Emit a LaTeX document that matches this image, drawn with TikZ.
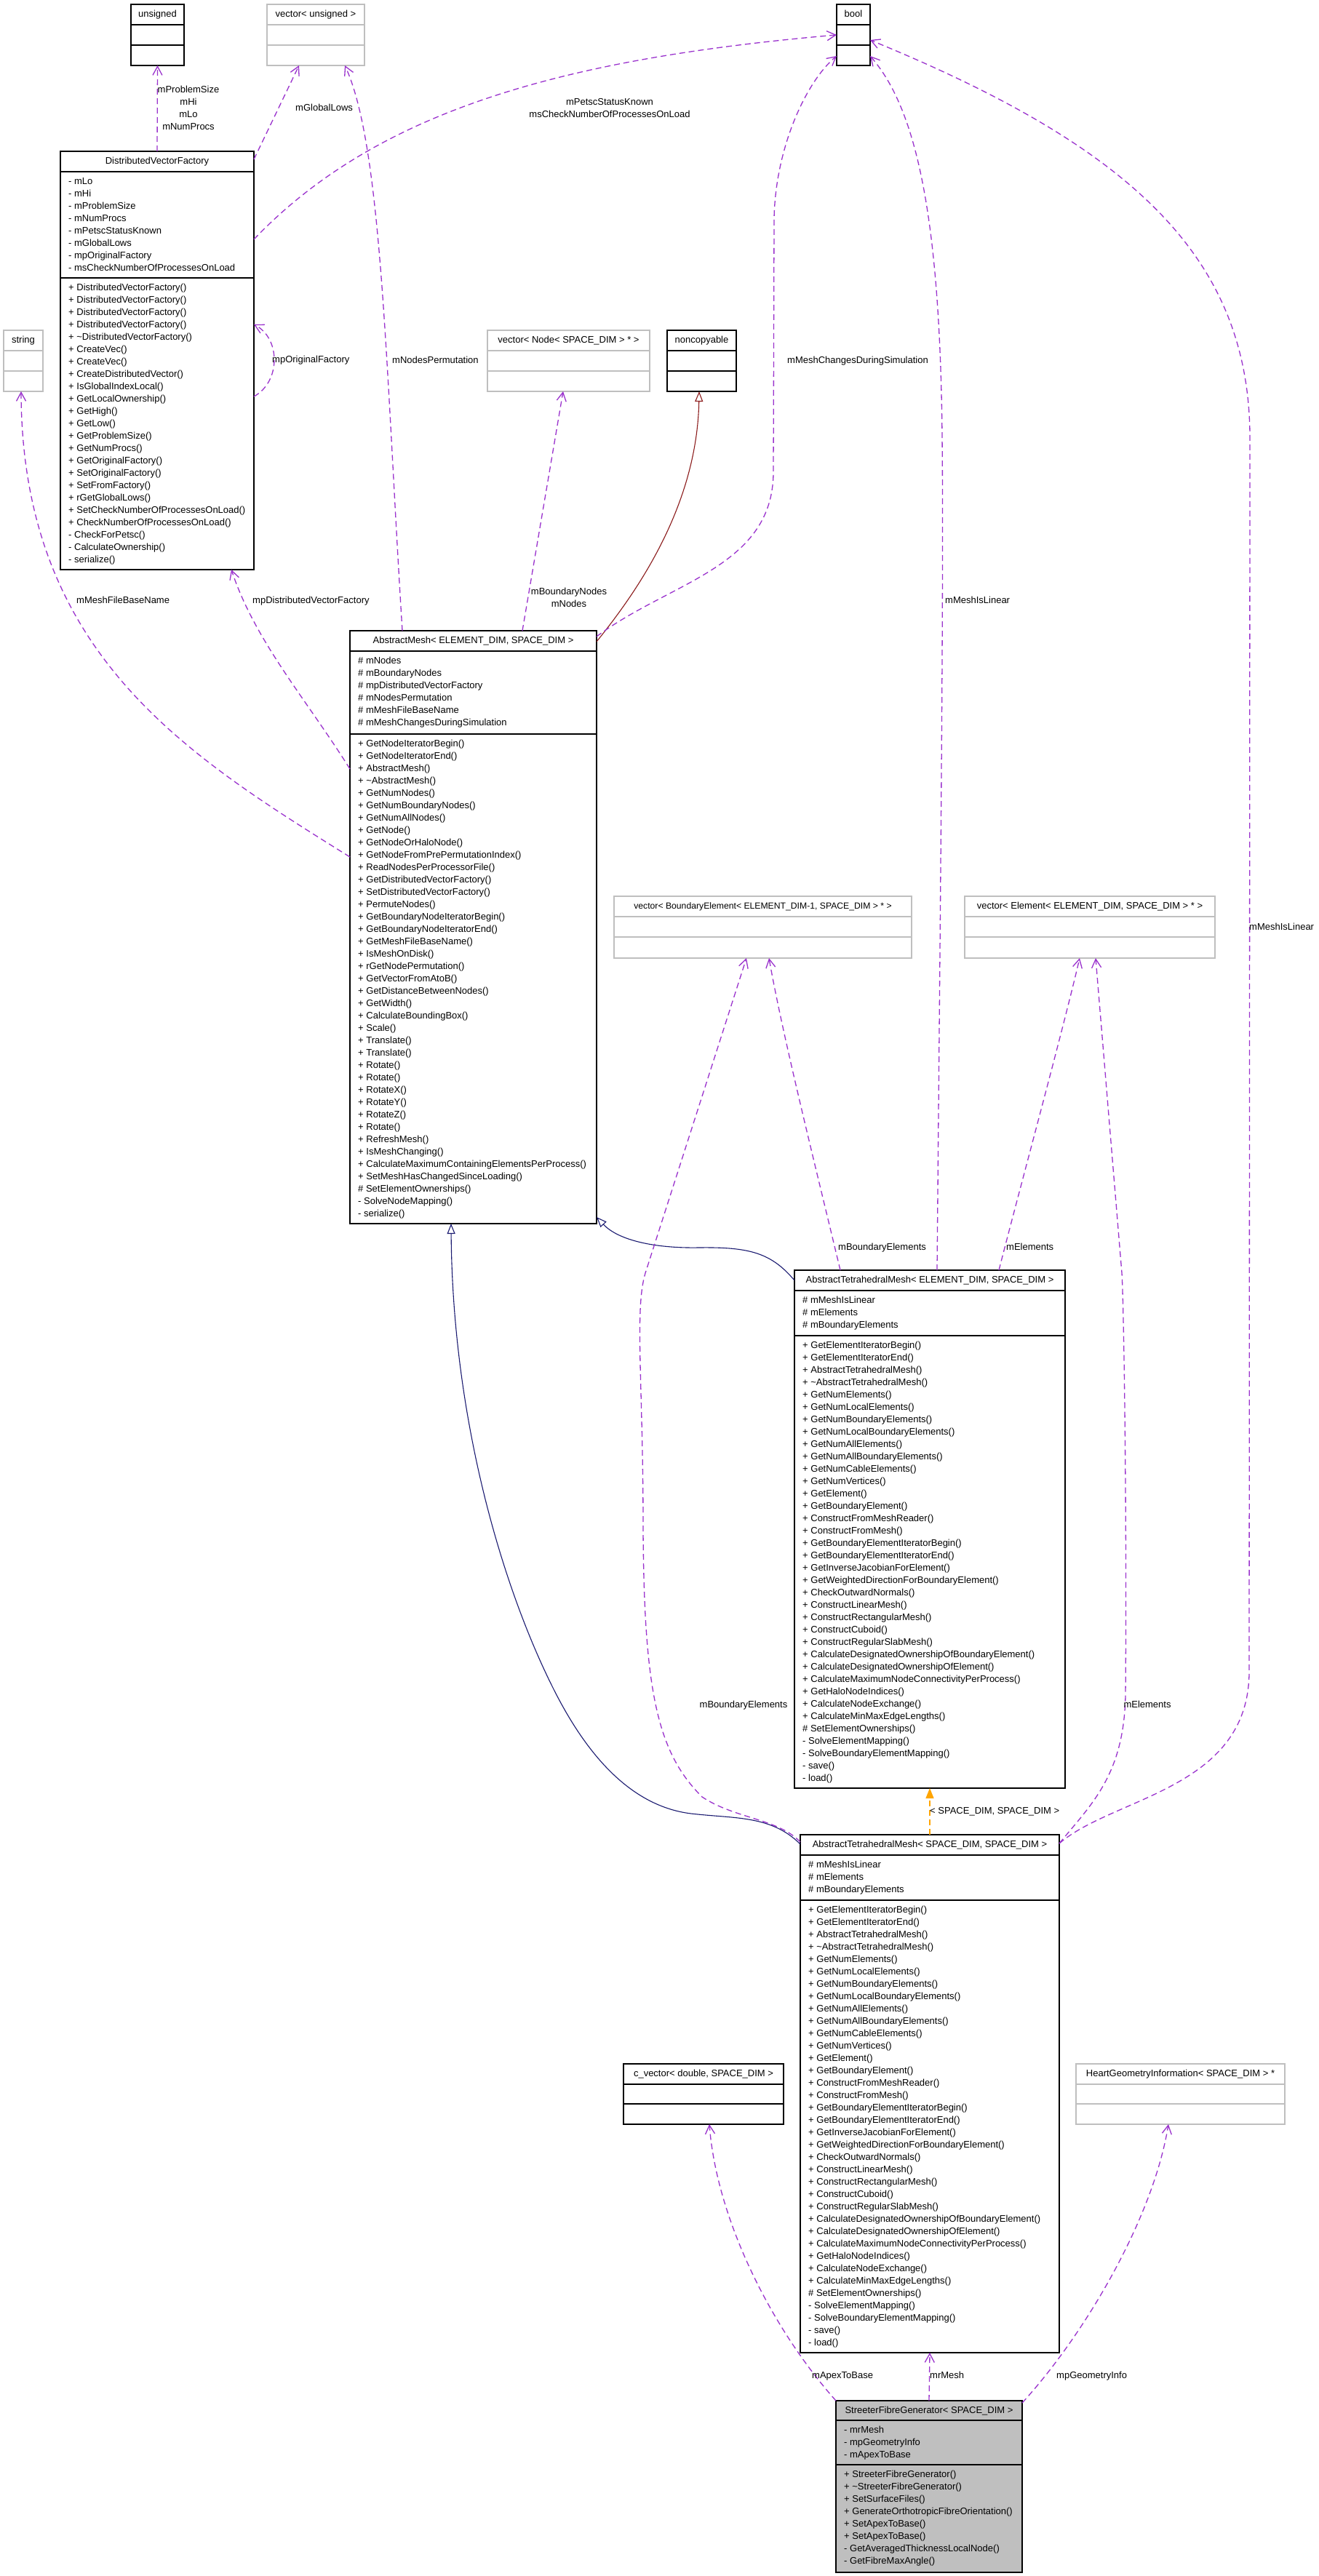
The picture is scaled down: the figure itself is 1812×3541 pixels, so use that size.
\documentclass[tikz,border=0pt]{standalone}
\usepackage{fontspec}
\setmainfont{Liberation Sans}
\usetikzlibrary{arrows.meta}
\definecolor{usecol}{HTML}{9A32CD}
\definecolor{inhcol}{HTML}{191970}
\definecolor{nccol}{HTML}{8B1A1A}
\definecolor{tplcol}{HTML}{FFA500}
\definecolor{gbord}{HTML}{BFBFBF}
\definecolor{selfill}{HTML}{BFBFBF}
\newcommand\dfont{\fontsize{13}{15}\selectfont}
\tikzset{
  blk/.style={draw=black, line width=1.3pt},
  gry/.style={draw=gbord, line width=1.3pt},
  boxnode/.style={fill=white, inner sep=0pt, outer sep=0pt, anchor=north west},
  txt/.style={font=\dfont, inner sep=0pt, anchor=base west},
  lbl/.style={font=\dfont, inner sep=0pt, anchor=base west},
  lblc/.style={font=\dfont, inner sep=0pt, anchor=base},
  use/.style={draw=usecol, line width=1.3pt, dash pattern=on 8pt off 5pt, -{Straight Barb[length=12pt,width=13pt]}},
  inh/.style={draw=inhcol, line width=1.1pt, -{Triangle[open,length=14pt,width=11pt]}},
  ncinh/.style={draw=nccol, line width=1.1pt, -{Triangle[open,length=14pt,width=11pt]}},
  tpl/.style={draw=tplcol, line width=1.3pt, dash pattern=on 8pt off 5pt, -{Triangle[length=14pt,width=11pt]}},
}
% name, style, left, top, right, bottom, sep1, sep2, title
\newcommand\clsframe[9]{%
  \node[boxnode, #2, minimum width={(#5)-(#3)}, minimum height={(#6)-(#4)}] (#1) at (#3,#4) {};
  \draw[#2] (#3,#7) -- (#5,#7) (#3,#8) -- (#5,#8);
  \node[font=\dfont, inner sep=0pt, anchor=base] (#1-t) at ({((#3)+(#5))/2},{(#4)+17.5}) {#9};
}
% name, x, first baseline, list macro
\newcommand\clslines[4]{\foreach \itm [count=\i from 0] in #4 {\node[txt] (#1\i) at (#2,{(#3)+17*\i}) {\itm};}}

\def\dvfattrs{- mLo,- mHi,- mProblemSize,- mNumProcs,- mPetscStatusKnown,- mGlobalLows,- mpOriginalFactory,- msCheckNumberOfProcessesOnLoad}
\def\dvfmeths{+ DistributedVectorFactory(),+ DistributedVectorFactory(),+ DistributedVectorFactory(),+ DistributedVectorFactory(),+ \textasciitilde DistributedVectorFactory(),+ CreateVec(),+ CreateVec(),+ CreateDistributedVector(),+ IsGlobalIndexLocal(),+ GetLocalOwnership(),+ GetHigh(),+ GetLow(),+ GetProblemSize(),+ GetNumProcs(),+ GetOriginalFactory(),+ SetOriginalFactory(),+ SetFromFactory(),+ rGetGlobalLows(),+ SetCheckNumberOfProcessesOnLoad(),+ CheckNumberOfProcessesOnLoad(),- CheckForPetsc(),- CalculateOwnership(),- serialize()}
\def\amattrs{\# mNodes,\# mBoundaryNodes,\# mpDistributedVectorFactory,\# mNodesPermutation,\# mMeshFileBaseName,\# mMeshChangesDuringSimulation}
\def\ammeths{+ GetNodeIteratorBegin(),+ GetNodeIteratorEnd(),+ AbstractMesh(),+ \textasciitilde AbstractMesh(),+ GetNumNodes(),+ GetNumBoundaryNodes(),+ GetNumAllNodes(),+ GetNode(),+ GetNodeOrHaloNode(),+ GetNodeFromPrePermutationIndex(),+ ReadNodesPerProcessorFile(),+ GetDistributedVectorFactory(),+ SetDistributedVectorFactory(),+ PermuteNodes(),+ GetBoundaryNodeIteratorBegin(),+ GetBoundaryNodeIteratorEnd(),+ GetMeshFileBaseName(),+ IsMeshOnDisk(),+ rGetNodePermutation(),+ GetVectorFromAtoB(),+ GetDistanceBetweenNodes(),+ GetWidth(),+ CalculateBoundingBox(),+ Scale(),+ Translate(),+ Translate(),+ Rotate(),+ Rotate(),+ RotateX(),+ RotateY(),+ RotateZ(),+ Rotate(),+ RefreshMesh(),+ IsMeshChanging(),+ CalculateMaximumContainingElementsPerProcess(),+ SetMeshHasChangedSinceLoading(),\# SetElementOwnerships(),- SolveNodeMapping(),- serialize()}
\def\atmattrs{\# mMeshIsLinear,\# mElements,\# mBoundaryElements}
\def\atmmeths{+ GetElementIteratorBegin(),+ GetElementIteratorEnd(),+ AbstractTetrahedralMesh(),+ \textasciitilde AbstractTetrahedralMesh(),+ GetNumElements(),+ GetNumLocalElements(),+ GetNumBoundaryElements(),+ GetNumLocalBoundaryElements(),+ GetNumAllElements(),+ GetNumAllBoundaryElements(),+ GetNumCableElements(),+ GetNumVertices(),+ GetElement(),+ GetBoundaryElement(),+ ConstructFromMeshReader(),+ ConstructFromMesh(),+ GetBoundaryElementIteratorBegin(),+ GetBoundaryElementIteratorEnd(),+ GetInverseJacobianForElement(),+ GetWeightedDirectionForBoundaryElement(),+ CheckOutwardNormals(),+ ConstructLinearMesh(),+ ConstructRectangularMesh(),+ ConstructCuboid(),+ ConstructRegularSlabMesh(),+ CalculateDesignatedOwnershipOfBoundaryElement(),+ CalculateDesignatedOwnershipOfElement(),+ CalculateMaximumNodeConnectivityPerProcess(),+ GetHaloNodeIndices(),+ CalculateNodeExchange(),+ CalculateMinMaxEdgeLengths(),\# SetElementOwnerships(),- SolveElementMapping(),- SolveBoundaryElementMapping(),- save(),- load()}
\def\sfgattrs{- mrMesh,- mpGeometryInfo,- mApexToBase}
\def\sfgmeths{+ StreeterFibreGenerator(),+ \textasciitilde StreeterFibreGenerator(),+ SetSurfaceFiles(),+ GenerateOrthotropicFibreOrientation(),+ SetApexToBase(),+ SetApexToBase(),- GetAveragedThicknessLocalNode(),- GetFibreMaxAngle()}

\begin{document}
\begin{tikzpicture}[x=1pt,y=-1pt]
\useasboundingbox (0,0) rectangle (1812,3541);
\fill[white] (0,0) rectangle (1812,3541);

% ---------- boxes ----------
\clsframe{unsigned}{blk}{180}{6}{253}{90}{34}{62}{unsigned}
\clsframe{vecu}{gry}{367}{6}{501}{90}{34}{62}{vector< unsigned >}
\clsframe{bool}{blk}{1150}{6}{1196}{90}{34}{62}{bool}
\clsframe{dvf}{blk}{83}{208}{349}{783}{236}{382}{DistributedVectorFactory}
\clslines{dvfa}{94}{253.5}{\dvfattrs}
\clslines{dvfm}{94}{399.5}{\dvfmeths}
\clsframe{string}{gry}{5}{454}{59}{538}{482}{510}{string}
\clsframe{vecnode}{gry}{670}{454}{893}{538}{482}{510}{vector< Node< SPACE\_DIM > * >}
\clsframe{noncopyable}{blk}{917}{454}{1012}{538}{482}{510}{noncopyable}
\clsframe{am}{blk}{481}{867}{820}{1682}{895}{1009}{AbstractMesh< ELEMENT\_DIM, SPACE\_DIM >}
\clslines{ama}{492}{912.5}{\amattrs}
\clslines{amm}{492}{1026.5}{\ammeths}
\clsframe{vecbe}{gry}{844}{1232}{1253}{1317}{1260}{1288}{\fontsize{12.2}{14}\selectfont vector< BoundaryElement< ELEMENT\_DIM-1, SPACE\_DIM > * >}
\clsframe{vece}{gry}{1326}{1232}{1670}{1317}{1260}{1288}{vector< Element< ELEMENT\_DIM, SPACE\_DIM > * >}
\clsframe{atmes}{blk}{1092}{1746}{1464}{2458}{1774}{1836}{AbstractTetrahedralMesh< ELEMENT\_DIM, SPACE\_DIM >}
\clslines{atmesa}{1103}{1791.5}{\atmattrs}
\clslines{atmesm}{1103}{1853.5}{\atmmeths}
\clsframe{atmss}{blk}{1100}{2522}{1456}{3234}{2550}{2612}{AbstractTetrahedralMesh< SPACE\_DIM, SPACE\_DIM >}
\clslines{atmssa}{1111}{2567.5}{\atmattrs}
\clslines{atmssm}{1111}{2629.5}{\atmmeths}
\clsframe{cvec}{blk}{857}{2837}{1077}{2920}{2865}{2892}{c\_vector< double, SPACE\_DIM >}
\clsframe{hgi}{gry}{1479}{2837}{1766}{2920}{2865}{2892}{HeartGeometryInformation< SPACE\_DIM > *}
\clsframe{sfg}{blk,fill=selfill}{1149}{3300}{1405}{3536}{3327}{3388}{StreeterFibreGenerator< SPACE\_DIM >}
\clslines{sfga}{1160}{3344.5}{\sfgattrs}
\clslines{sfgm}{1160}{3405.5}{\sfgmeths}

% ---------- connectors ----------
\draw[use] (dvf.north) -- (unsigned.south);
\draw[use] ([yshift=-11pt]dvf.north east) -- ([xshift=-23pt]vecu.south);
\draw[use] ([yshift=-121pt]dvf.north east) .. controls (520,150) and (780,80) .. ([yshift=-42pt]bool.north west);
\draw[use] ([yshift=-337pt]dvf.north east) .. controls (386,525) and (386,465) .. ([yshift=-238pt]dvf.north east);
\draw[use] ([yshift=-190pt]am.north west) .. controls (420,960) and (350,880) .. ([xshift=102pt]dvf.south);
\draw[use] ([yshift=-311pt]am.north west) .. controls (260,1040) and (30,900) .. ([xshift=-3pt]string.south);
\draw[use] ([xshift=72pt]am.north west) .. controls (530,500) and (525,200) .. ([xshift=40pt]vecu.south);
\draw[use] ([xshift=237pt]am.north west) -- ([xshift=-7.5pt]vecnode.south);
\draw[ncinh] ([yshift=-15pt]am.north east) .. controls (870,820) and (958,700) .. ([xshift=-3.5pt]noncopyable.south);
\draw[use] ([yshift=-8pt]am.north east) .. controls (920,800) and (1062,780) .. (1063,650) -- (1064,300) .. controls (1066,200) and (1110,110) .. ([yshift=-71pt]bool.north west);
\draw[inh] ([yshift=-14pt]atmes.north west) .. controls (1060,1722) and (1030,1714) .. (960,1715) .. controls (900,1716) and (850,1705) .. ([yshift=9pt]am.south east);
\draw[use] ([xshift=63pt]atmes.north west) .. controls (1120,1600) and (1075,1420) .. ([xshift=8.5pt]vecbe.south);
\draw[use] ([xshift=196pt]atmes.north west) .. controls (1293,1200) and (1297,800) .. (1295,600) .. controls (1292,300) and (1260,150) .. ([yshift=-71pt]bool.north east);
\draw[use] ([xshift=281pt]atmes.north west) .. controls (1400,1640) and (1460,1420) .. ([xshift=-14pt]vece.south);
\draw[tpl] (atmss.north) -- (atmes.south);
\draw[inh] ([yshift=-13pt]atmss.north west) .. controls (1060,2495) and (1010,2500) .. (950,2493) .. controls (860,2482) and (800,2400) .. (760,2320) .. controls (690,2180) and (622,1950) .. ([xshift=-30.5pt]am.south);
\draw[use] ([yshift=-10pt]atmss.north west) .. controls (1070,2500) and (1010,2500) .. (965,2470) .. controls (905,2410) and (885,2330) .. (884,2100) .. controls (884,1900) and (872,1800) .. (887,1750) -- ([xshift=-22.5pt]vecbe.south);
\draw[use] ([yshift=-12pt]atmss.north east) .. controls (1500,2480) and (1545,2440) .. (1547,2330) .. controls (1549,2100) and (1545,1800) .. (1542,1750) -- ([xshift=8pt]vece.south);
\draw[use] ([yshift=-12pt]atmss.north east) .. controls (1530,2470) and (1715,2460) .. (1717,2300) -- (1718,600) .. controls (1717,350) and (1550,200) .. ([yshift=-49pt]bool.north east);
\draw[use] (sfg.north west) .. controls (1060,3200) and (985,3050) .. ([xshift=8pt]cvec.south);
\draw[use] (sfg.north) -- (atmss.south);
\draw[use] ([yshift=-3pt]sfg.north east) .. controls (1490,3210) and (1585,3050) .. ([xshift=-16.5pt]hgi.south);

% ---------- labels ----------
\foreach \t [count=\i from 0] in {mProblemSize,mHi,mLo,mNumProcs} \node[lblc] (lu\i) at (259,{127+17*\i}) {\t};
\node[lbl] (lglob) at (406,152.5) {mGlobalLows};
\node[lblc] (lpet0) at (838,144) {mPetscStatusKnown};
\node[lblc] (lpet1) at (838,161) {msCheckNumberOfProcessesOnLoad};
\node[lbl] (lorig) at (374,498.5) {mpOriginalFactory};
\node[lbl] (lperm) at (539,499) {mNodesPermutation};
\node[lblc] (lmcds) at (1179,499.5) {mMeshChangesDuringSimulation};
\node[lbl] (lfbn) at (105,829) {mMeshFileBaseName};
\node[lbl] (lpdvf) at (347,829) {mpDistributedVectorFactory};
\node[lblc] (lbn) at (782,817.5) {mBoundaryNodes};
\node[lblc] (lnd) at (782,834.5) {mNodes};
\node[lbl] (lmil1) at (1299,829.5) {mMeshIsLinear};
\node[lbl] (lmil2) at (1717,1278.5) {mMeshIsLinear};
\node[lbl] (lbe1) at (1152,1718.5) {mBoundaryElements};
\node[lbl] (le1) at (1383,1718.5) {mElements};
\node[lblc] (lbe2) at (1022,2347.5) {mBoundaryElements};
\node[lblc] (le2) at (1577,2347.5) {mElements};
\node[lbl] (ltpl) at (1278,2493.5) {< SPACE\_DIM, SPACE\_DIM >};
\node[lbl] (lapex) at (1116,3269.5) {mApexToBase};
\node[lbl] (lrm) at (1278,3269.5) {mrMesh};
\node[lbl] (lgeo) at (1452,3269.5) {mpGeometryInfo};
\end{tikzpicture}
\end{document}
